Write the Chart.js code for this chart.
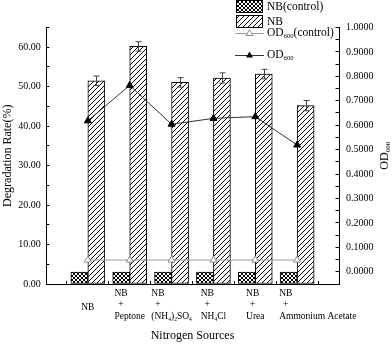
<!DOCTYPE html>
<html>
<head>
  <title>Nitrogen Sources</title>
  <script src="https://cdn.jsdelivr.net/npm/chart.js"></script>
  <style>
    body { margin: 0; background: #fff; }
    #wrap { width: 392px; height: 344px; }
  </style>
</head>
<body>
  <div id="wrap"><canvas id="chart" width="392" height="344"></canvas></div>
  <script>
    // data
    const categories = ['NB', 'NB+Peptone', 'NB+(NH4)2SO4', 'NB+NH4Cl', 'NB+Urea', 'NB+Ammonium Acetate'];
    const tickLabels = [
      ['NB'],
      ['NB', '+', 'Peptone'],
      ['NB', '+', '(NH_4)_2SO_4'],
      ['NB', '+', 'NH_4Cl'],
      ['NB', '+', 'Urea'],
      ['NB', '+', 'Ammonium Acetate']
    ];
    const rateControl = [3.0, 3.0, 3.0, 3.0, 3.0, 3.0];
    const rateNB = [51.5, 60.2, 51.1, 52.2, 53.2, 45.2];
    const rateNBErr = [1.2, 1.2, 1.2, 1.3, 1.2, 1.3];
    const odControl = [0.048, 0.048, 0.048, 0.048, 0.048, 0.048];
    const odNB = [0.618, 0.763, 0.604, 0.628, 0.635, 0.519];

    const FONT = '"Liberation Serif", "Times New Roman", serif';
    Chart.defaults.color = '#000';
    Chart.defaults.font.family = FONT;

    const toPoints = vals => vals.map((v, i) => ({ x: i + 1, y: v }));

    function makePattern(size, draw) {
      const c = document.createElement('canvas');
      c.width = size; c.height = size;
      const g = c.getContext('2d');
      g.fillStyle = '#fff';
      g.fillRect(0, 0, size, size);
      g.strokeStyle = '#000';
      g.lineWidth = 1;
      draw(g, size);
      return g.createPattern(c, 'repeat');
    }
    const crossPattern = makePattern(4, (g, s) => {
      g.beginPath();
      g.moveTo(0, 0); g.lineTo(s, s);
      g.moveTo(0, s); g.lineTo(s, 0);
      g.stroke();
    });
    const diagPattern = makePattern(5, (g, s) => {
      g.beginPath();
      g.moveTo(-1, s + 1); g.lineTo(s + 1, -1);
      g.moveTo(-1, 1); g.lineTo(1, -1);
      g.moveTo(s - 1, s + 1); g.lineTo(s + 1, s - 1);
      g.stroke();
    });

    // text with _x or _{xyz} subscripts
    function parseRich(text) {
      const segs = [];
      let i = 0;
      while (i < text.length) {
        if (text[i] === '_') {
          let t;
          if (text[i + 1] === '{') {
            const j = text.indexOf('}', i);
            t = text.slice(i + 2, j);
            i = j + 1;
          } else {
            t = text[i + 1];
            i += 2;
          }
          segs.push({ t, sub: true });
        } else {
          let j = i;
          while (j < text.length && text[j] !== '_') j++;
          segs.push({ t: text.slice(i, j), sub: false });
          i = j;
        }
      }
      return segs;
    }
    function richWidth(ctx, text, size) {
      let w = 0;
      parseRich(text).forEach(s => {
        ctx.font = (s.sub ? size * 0.58 : size) + 'px ' + FONT;
        w += ctx.measureText(s.t).width;
      });
      return w;
    }
    function drawRich(ctx, text, x, y, size, align) {
      const w = richWidth(ctx, text, size);
      let cx = align === 'center' ? x - w / 2 : x;
      ctx.textAlign = 'left';
      ctx.textBaseline = 'middle';
      ctx.fillStyle = '#000';
      parseRich(text).forEach(s => {
        ctx.font = (s.sub ? size * 0.58 : size) + 'px ' + FONT;
        ctx.fillText(s.t, cx, s.sub ? y + size * 0.3 : y);
        cx += ctx.measureText(s.t).width;
      });
      return w;
    }

    function triangle(ctx, x, y, r) {
      ctx.beginPath();
      for (let k = 0; k < 3; k++) {
        const a = k * 2 * Math.PI / 3;
        const px = x + Math.sin(a) * r, py = y - Math.cos(a) * r;
        if (k === 0) ctx.moveTo(px, py); else ctx.lineTo(px, py);
      }
      ctx.closePath();
    }

    const decorations = {
      id: 'decorations',
      afterDatasetDraw(chart, args) {
        if (args.index !== 1) return;
        const ctx = chart.ctx, y = chart.scales.y;
        ctx.save();
        ctx.strokeStyle = '#444';
        ctx.lineWidth = 1;
        args.meta.data.forEach((bar, i) => {
          const bx = Math.round(bar.x) + 0.5;
          const top = y.getPixelForValue(rateNB[i] + rateNBErr[i]);
          const bot = y.getPixelForValue(rateNB[i] - rateNBErr[i]);
          ctx.beginPath();
          ctx.moveTo(bx, top); ctx.lineTo(bx, bot);
          ctx.moveTo(bx - 3, top); ctx.lineTo(bx + 3, top);
          ctx.moveTo(bx - 3, bot); ctx.lineTo(bx + 3, bot);
          ctx.stroke();
        });
        ctx.restore();
      },
      afterDraw(chart) {
        const ctx = chart.ctx, xs = chart.scales.x, y2 = chart.scales.y2;
        const size = 9.5;
        const slot = xs.width / 7;
        ctx.save();
        // category labels under the axis: lines left aligned in a block
        tickLabels.forEach((lines, i) => {
          const px = xs.getPixelForValue(i + 1);
          const row = k => xs.top + 9 + k * 11.7;
          if (lines.length === 1) {
            drawRich(ctx, lines[0], px, row(1.25), size, 'center');
            return;
          }
          const widths = lines.map(t => richWidth(ctx, t, size));
          const w = Math.max(...widths);
          const left = w > slot ? px - 18 : px - w / 2;
          lines.forEach((t, k) => {
            const x = t === '+' ? left + (widths[0] - widths[k]) / 2 : left;
            drawRich(ctx, t, x, row(k), size, 'left');
          });
        });
        // right axis title, reads bottom to top
        ctx.save();
        ctx.translate(385, (y2.top + y2.bottom) / 2);
        ctx.rotate(-Math.PI / 2);
        drawRich(ctx, 'OD_{600}', 0, 0, 12, 'center');
        ctx.restore();
        // legend
        ctx.lineWidth = 1;
        ctx.strokeStyle = '#000';
        ctx.fillStyle = crossPattern;
        ctx.fillRect(236.5, 0.5, 26, 12);
        ctx.strokeRect(236.5, 0.5, 26, 12);
        ctx.fillStyle = diagPattern;
        ctx.fillRect(236.5, 15.5, 26, 12);
        ctx.strokeRect(236.5, 15.5, 26, 12);
        drawRich(ctx, 'NB(control)', 267, 7, 11.5, 'left');
        drawRich(ctx, 'NB', 267, 22, 11.5, 'left');

        ctx.strokeStyle = '#9a9a9a';
        ctx.beginPath();
        ctx.moveTo(235, 33.5); ctx.lineTo(264, 33.5);
        ctx.stroke();
        triangle(ctx, 249.5, 33.5, 4);
        ctx.fillStyle = '#fff';
        ctx.fill();
        ctx.strokeStyle = '#8a8a8a';
        ctx.stroke();
        drawRich(ctx, 'OD_{600}(control)', 267, 33, 11.5, 'left');

        ctx.strokeStyle = '#333';
        ctx.beginPath();
        ctx.moveTo(235, 55.5); ctx.lineTo(264, 55.5);
        ctx.stroke();
        triangle(ctx, 249.5, 55.5, 4);
        ctx.fillStyle = '#000';
        ctx.fill();
        drawRich(ctx, 'OD_{600}', 267, 55, 11.5, 'left');
        ctx.restore();
      }
    };

    const axisBorder = { display: true, color: '#000', width: 1 };

    new Chart(document.getElementById('chart'), {
      type: 'bar',
      data: {
        datasets: [
          {
            label: 'NB(control)',
            data: toPoints(rateControl),
            backgroundColor: crossPattern,
            borderColor: '#000',
            borderWidth: 1,
            borderSkipped: false,
            barThickness: 17,
            yAxisID: 'y',
            order: 1
          },
          {
            label: 'NB',
            data: toPoints(rateNB),
            backgroundColor: diagPattern,
            borderColor: '#000',
            borderWidth: 1,
            borderSkipped: false,
            barThickness: 17,
            yAxisID: 'y',
            order: 1
          },
          {
            type: 'line',
            label: 'OD600(control)',
            data: toPoints(odControl),
            yAxisID: 'y2',
            borderColor: '#9a9a9a',
            borderWidth: 1,
            pointStyle: 'triangle',
            pointRadius: 4,
            pointBackgroundColor: '#fff',
            pointBorderColor: '#8a8a8a',
            pointBorderWidth: 1,
            order: 0
          },
          {
            type: 'line',
            label: 'OD600',
            data: toPoints(odNB),
            yAxisID: 'y2',
            borderColor: '#333',
            borderWidth: 1,
            pointStyle: 'triangle',
            pointRadius: 4,
            pointBackgroundColor: '#000',
            pointBorderColor: '#000',
            pointBorderWidth: 1,
            order: 0
          }
        ]
      },
      options: {
        responsive: false,
        animation: false,
        devicePixelRatio: 1,
        layout: { padding: { top: 27.5 } },
        plugins: {
          legend: { display: false },
          tooltip: { enabled: false }
        },
        scales: {
          x: {
            type: 'linear',
            min: 0,
            max: 7,
            offset: false,
            afterFit: s => { s.height = 60; },
            border: axisBorder,
            grid: {
              drawOnChartArea: false,
              offset: false,
              tickLength: -3,
              tickColor: c => (c.tick && c.tick.value % 1 !== 0) ? '#000' : 'rgba(0,0,0,0)'
            },
            ticks: { stepSize: 0.5, autoSkip: false, callback: () => '' },
            title: {
              display: true,
              text: 'Nitrogen Sources',
              color: '#000',
              font: { family: FONT, size: 12 },
              padding: { top: 0, bottom: 1 }
            }
          },
          y: {
            position: 'left',
            min: 0,
            max: 65,
            afterFit: s => { s.width = 46; },
            border: axisBorder,
            grid: { drawOnChartArea: false, tickLength: -3.5, tickColor: '#000' },
            ticks: {
              stepSize: 5,
              autoSkip: false,
              padding: 8.8,
              color: '#000',
              font: { family: FONT, size: 10 },
              callback: v => v % 10 === 0 ? v.toFixed(2) : ''
            },
            title: {
              display: true,
              text: 'Degradation Rate(%)',
              color: '#000',
              font: { family: FONT, size: 12 },
              padding: { top: 1, bottom: 0 }
            }
          },
          y2: {
            position: 'right',
            min: -0.05,
            max: 1.0,
            afterFit: s => { s.width = 53; },
            border: axisBorder,
            grid: { drawOnChartArea: false, tickLength: -3.5, tickColor: '#000' },
            ticks: {
              stepSize: 0.05,
              autoSkip: false,
              padding: 10.5,
              color: '#000',
              font: { family: FONT, size: 10 },
              callback: v => Math.round(v * 100) % 10 === 0 ? v.toFixed(4) : ''
            }
          }
        }
      },
      plugins: [decorations]
    });
  </script>
</body>
</html>
